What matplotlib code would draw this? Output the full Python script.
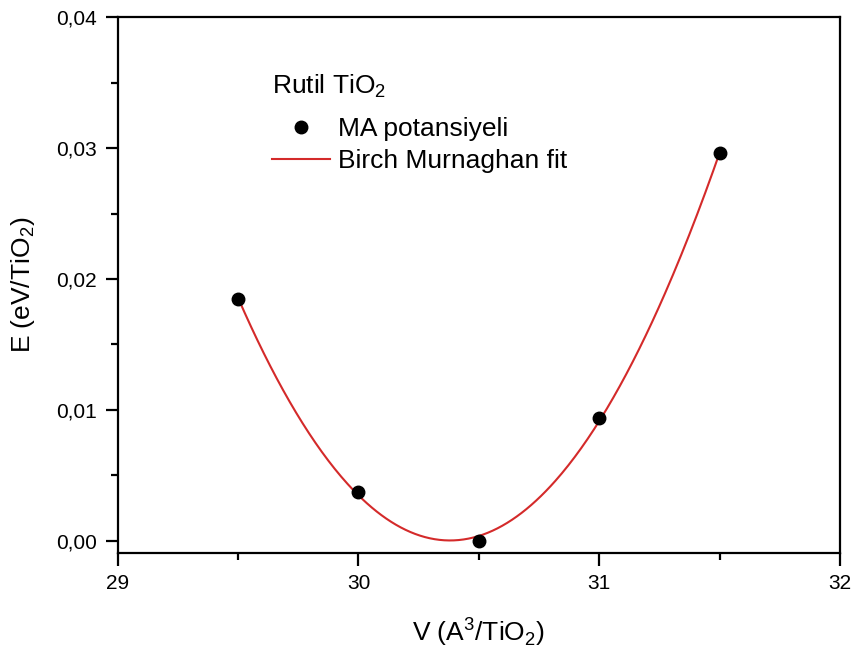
import matplotlib.pyplot as plt
import numpy as np

plt.rcParams['font.family'] = ['Liberation Sans', 'DejaVu Sans']
plt.rcParams['mathtext.fontset'] = 'custom'
plt.rcParams['mathtext.rm'] = 'Liberation Sans'

volume = [29.5, 30.0, 30.5, 31.0, 31.5]
energy = [0.0185, 0.0037, 0.0000, 0.0094, 0.0296]
x_ticks = [29, 30, 31, 32]
y_ticks = [0, 0.01, 0.02, 0.03, 0.04]
y_ticklabels = ['0,00', '0,01', '0,02', '0,03', '0,04']

# third-order Birch-Murnaghan is a cubic in V^(-2/3)
coef = np.polyfit(np.array(volume) ** (-2 / 3), energy, 3)
v_fit = np.linspace(volume[0], volume[-1], 300)
e_fit = np.polyval(coef, v_fit ** (-2 / 3))

fig = plt.figure(figsize=(8.57, 6.55), dpi=100)
ax = fig.add_axes([0.1373, 0.1557, 0.843, 0.818])

ax.plot(v_fit, e_fit, color='#d42a2a', lw=1.5, label='Birch Murnaghan fit', zorder=2)
ax.plot(volume, energy, 'o', color='black', ms=9, label='MA potansiyeli', zorder=3)

ax.set_xlim(29, 32)
ax.set_ylim(-0.00094, 0.04)
ax.set_xticks(x_ticks)
ax.set_xticklabels([str(t) for t in x_ticks], fontsize=15)
ax.set_xticks([29.5, 30.5, 31.5], minor=True)
ax.set_yticks(y_ticks)
ax.set_yticklabels(y_ticklabels, fontsize=15)
ax.set_yticks([0.005, 0.015, 0.025, 0.035], minor=True)
ax.tick_params(which='major', direction='out', length=9, width=1.6, pad=6)
ax.tick_params(which='minor', direction='out', length=5, width=1.6)
for s in ax.spines.values():
    s.set_linewidth(1.6)

ax.set_xlabel('V (A$^\\mathrm{3}$/TiO$_\\mathrm{2}$)', fontsize=19, labelpad=16)
ax.set_ylabel('E (eV/TiO$_\\mathrm{2}$)', fontsize=19, labelpad=14)

ax.text(0.2136, 0.872, 'Rutil TiO$_\\mathrm{2}$', transform=ax.transAxes,
        fontsize=19, ha='left', va='center')
handles, labels = ax.get_legend_handles_labels()
ax.legend(handles[::-1], labels[::-1], frameon=False, fontsize=19, loc='upper left',
          bbox_to_anchor=(0.2136, 0.813), borderpad=0, borderaxespad=0,
          handlelength=2.2, handletextpad=0.3, labelspacing=0.3)

fig.savefig('out.png', dpi=100)
